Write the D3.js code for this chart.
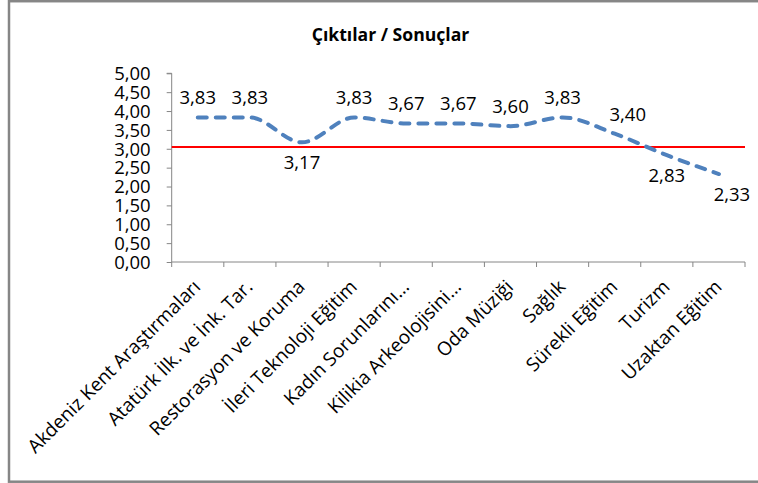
<!DOCTYPE html>
<html><head><meta charset="utf-8">
<script src="https://cdn.jsdelivr.net/npm/d3@7"></script>
<style>html,body{margin:0;padding:0;background:#fff;}svg{display:block;}</style>
</head><body>
<svg id="c" width="758" height="483"></svg>
<script>
const categories = ["Akdeniz Kent Araştırmaları","Atatürk İlk. ve İnk. Tar.","Restorasyon ve Koruma","İleri Teknoloji Eğitim","Kadın Sorunlarını...","Kilikia Arkeolojisini...","Oda Müziği","Sağlık","Sürekli Eğitim","Turizm","Uzaktan Eğitim"];
const values = [3.83,3.83,3.17,3.83,3.67,3.67,3.60,3.83,3.40,2.83,2.33];
const yTicks = [0,0.5,1,1.5,2,2.5,3,3.5,4,4.5,5];
const thresholdValue = 3.05;
const title = "Çıktılar / Sonuçlar";

const svg = d3.select("#c");
const F = "'Open Sans', Lato, sans-serif";
const plot = {left:171.7, right:745, top:73.3, bottom:262};

// frame
svg.append("rect").attr("x",9).attr("y",1.2).attr("width",760).attr("height",480.5)
  .attr("fill","none").attr("stroke","#868686").attr("stroke-width",2.5);

svg.append("text").attr("x",390.5).attr("y",41).attr("text-anchor","middle")
  .attr("font-family",F).attr("font-weight","bold").attr("font-size",17.6).attr("fill","#000").text(title);

const x = d3.scaleBand().domain(categories).range([plot.left, plot.right]);
const y = d3.scaleLinear().domain([0,5]).range([plot.bottom, plot.top]);
const fmt = v => d3.format(".2f")(v).replace(".", ",");

// y axis
const yAxis = svg.append("g").attr("transform",`translate(${plot.left},0)`)
  .call(d3.axisLeft(y).tickValues(yTicks).tickFormat(fmt).tickSize(5).tickPadding(16));
yAxis.selectAll("path,line").attr("stroke","#868686");
yAxis.selectAll("text").attr("font-family",F).attr("font-size",18.5).attr("fill","#000").attr("dy","0.34em");
yAxis.select(".domain").attr("d",`M-5,${plot.top}H0V${plot.bottom}`);

// x axis
const xg = svg.append("g");
xg.append("line").attr("x1",plot.left).attr("x2",plot.right).attr("y1",plot.bottom).attr("y2",plot.bottom).attr("stroke","#868686");
const bounds = categories.map(c => x(c)).concat([plot.right]);
xg.selectAll("line.t").data(bounds).join("line").attr("class","t")
  .attr("x1",d=>d).attr("x2",d=>d).attr("y1",plot.bottom).attr("y2",plot.bottom+5).attr("stroke","#868686");
xg.selectAll("text").data(categories).join("text")
  .attr("transform",d=>`translate(${x(d)+x.bandwidth()/2+4},${plot.bottom+26}) rotate(-45)`)
  .attr("text-anchor","end").attr("font-family",F).attr("font-size",19).attr("fill","#000").text(d=>d);

// threshold
svg.append("line").attr("x1",plot.left).attr("x2",plot.right).attr("y1",y(thresholdValue)).attr("y2",y(thresholdValue))
  .attr("stroke","#ff0000").attr("stroke-width",2);

// series
const pts = values.map((v,i)=>[x(categories[i])+x.bandwidth()/2, y(v)]);
svg.append("path").attr("d", d3.line().curve(d3.curveMonotoneX)(pts))
  .attr("fill","none").attr("stroke","#4F81BD").attr("stroke-width",4)
  .attr("stroke-dasharray","9,9").attr("stroke-linecap","round");

// labels
svg.selectAll("text.lbl").data(values).join("text").attr("class","lbl")
  .each(function(v,i){
    const dip = i>0 && i<values.length-1 && (values[i-1]-v)>0.5 && (values[i+1]-v)>0.5;
    const below = v < thresholdValue || dip;
    const dx = (i===8||i===values.length-1) ? 13 : 0;
    d3.select(this).attr("x",pts[i][0]+dx).attr("y", below ? pts[i][1]+27 : pts[i][1]-13);
  })
  .attr("text-anchor","middle").attr("font-family",F).attr("font-size",18.5).attr("fill","#000").text(fmt);
</script>
</body></html>
